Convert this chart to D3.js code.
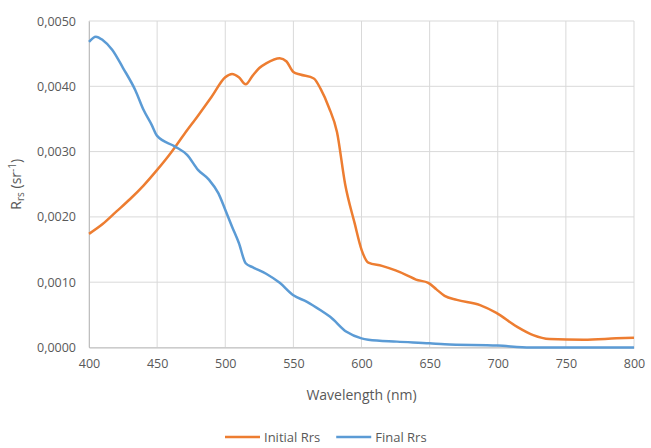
<!DOCTYPE html>
<html>
<head>
<meta charset="utf-8">
<script src="https://cdn.jsdelivr.net/npm/d3@7"></script>
<style>
  body { margin: 0; background: #fff; }
  text { font-family: "Open Sans", "Liberation Sans", sans-serif; fill: #595959; }
</style>
</head>
<body>
<div id="chart"></div>
<script>
// Initial Rrs
const initialWl = [400, 410, 420, 430, 440, 450, 460, 470, 480, 490, 500, 505, 510, 515, 520, 525, 530, 540, 545, 550, 555, 565, 570, 576, 582, 588, 595, 600, 605, 615, 625, 633, 640, 649, 655, 661, 670, 687, 699, 714, 726, 738, 763, 787, 800];
const initialRrs = [0.00174, 0.00189, 0.00208, 0.00227, 0.00248, 0.00272, 0.00298, 0.00327, 0.00355, 0.00384, 0.00414, 0.00419, 0.00414, 0.00403, 0.00416, 0.00428, 0.00435, 0.00443, 0.00438, 0.00422, 0.00418, 0.00412, 0.00396, 0.00368, 0.00330, 0.00250, 0.00190, 0.00150, 0.00130, 0.00125, 0.00118, 0.00111, 0.00104, 0.00099, 0.00089, 0.00079, 0.00073, 0.00065, 0.00053, 0.00032, 0.00019, 0.00013, 0.00012, 0.00014, 0.00015];

// Final Rrs
const finalWl = [400, 405, 410, 417, 425, 434, 440, 446, 450, 463, 472, 480, 488, 495, 500, 505, 510, 515, 520, 530, 540, 550, 560, 570, 577, 589, 600, 605, 626, 650, 661, 700, 724, 800];
const finalRrs = [0.00468, 0.00476, 0.00471, 0.00456, 0.00428, 0.00394, 0.00364, 0.00341, 0.00324, 0.00308, 0.00295, 0.00272, 0.00257, 0.00236, 0.00211, 0.00185, 0.00160, 0.00129, 0.00123, 0.00113, 0.00099, 0.00080, 0.00070, 0.00057, 0.00047, 0.00024, 0.00014, 0.00012, 0.00009, 0.000065, 0.00005, 0.00003, 0.0, 0.0];

const xTicks = [400, 450, 500, 550, 600, 650, 700, 750, 800];
const yTicks = [0, 0.001, 0.002, 0.003, 0.004, 0.005];

const series = [
  {name: "Initial Rrs", wl: initialWl, val: initialRrs, color: "#ED7D31"},
  {name: "Final Rrs", wl: finalWl, val: finalRrs, color: "#5B9BD5"}
];

const W = 651, H = 448;
const margin = {top: 21, right: 17, bottom: 100.5, left: 89};
const width = W - margin.left - margin.right,
      height = H - margin.top - margin.bottom;

const svg = d3.select("#chart").append("svg")
  .attr("width", W).attr("height", H);
const g = svg.append("g").attr("transform", `translate(${margin.left},${margin.top})`);

const x = d3.scaleLinear().domain([400, 800]).range([0, width]);
const y = d3.scaleLinear().domain([0, 0.005]).range([height, 0]);

const fmt = d => d3.format(".4f")(d).replace(".", ",");

// gridlines
g.append("g").selectAll("line").data(yTicks).enter().append("line")
  .attr("x1", 0).attr("x2", width)
  .attr("y1", d => y(d)).attr("y2", d => y(d))
  .attr("stroke", "#d9d9d9").attr("stroke-width", 1);
g.append("g").selectAll("line").data(xTicks).enter().append("line")
  .attr("x1", d => x(d)).attr("x2", d => x(d))
  .attr("y1", 0).attr("y2", height)
  .attr("stroke", "#d9d9d9").attr("stroke-width", 1);

// axes
const xAxis = g.append("g").attr("transform", `translate(0,${height})`)
  .call(d3.axisBottom(x).tickValues(xTicks).tickSize(0).tickPadding(12).tickFormat(d3.format("d")));
const yAxis = g.append("g")
  .call(d3.axisLeft(y).tickValues(yTicks).tickSize(0).tickPadding(13).tickFormat(fmt));
[xAxis, yAxis].forEach(a => {
  a.select(".domain").attr("stroke", "#bfbfbf");
  a.selectAll("text").style("font-size", "12.5px").attr("fill", "#595959");
});

// lines
const line = d3.line().curve(d3.curveMonotoneX)
  .x(d => x(d[0])).y(d => y(d[1]));
series.forEach(s => {
  g.append("path")
    .datum(s.wl.map((w, i) => [w, s.val[i]]))
    .attr("fill", "none")
    .attr("stroke", s.color)
    .attr("stroke-width", 2.5)
    .attr("stroke-linejoin", "round")
    .attr("d", line);
});

// axis titles
svg.append("text")
  .attr("x", margin.left + width / 2).attr("y", 400)
  .attr("text-anchor", "middle").style("font-size", "14px")
  .text("Wavelength (nm)");

const yt = svg.append("text")
  .attr("transform", `translate(21,${margin.top + height / 2}) rotate(-90)`)
  .attr("text-anchor", "middle").style("font-size", "14px");
yt.append("tspan").text("R");
yt.append("tspan").attr("dy", 3).style("font-size", "10px").text("rs");
yt.append("tspan").attr("dy", -3).text(" (sr");
yt.append("tspan").attr("dy", -5).style("font-size", "10px").text("-1");
yt.append("tspan").attr("dy", 5).text(")");

// legend
const legend = svg.append("g").attr("transform", "translate(225,437)");
let lx = 0;
series.forEach(s => {
  legend.append("line")
    .attr("x1", lx).attr("x2", lx + 35).attr("y1", 0).attr("y2", 0)
    .attr("stroke", s.color).attr("stroke-width", 2.5);
  const t = legend.append("text")
    .attr("x", lx + 39).attr("y", 4.5).style("font-size", "13px").text(s.name);
  lx += 39 + t.node().getComputedTextLength() + 16;
});
</script>
</body>
</html>
